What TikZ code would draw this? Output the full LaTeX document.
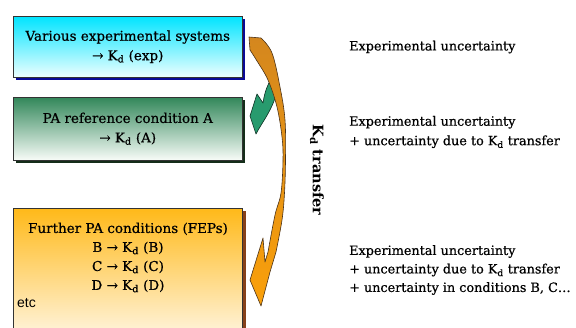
\documentclass[tikz,border=0pt]{standalone}
\usepackage{fontspec}
\setmainfont{DejaVu Serif}[UprightFeatures={FakeBold=0.6}]
\setsansfont{Liberation Sans}
\usetikzlibrary{positioning, shadows}

\definecolor{sysTop}{RGB}{0,228,255}
\definecolor{sysBot}{RGB}{238,255,255}
\definecolor{sysShadow}{RGB}{10,10,150}
\definecolor{refTop}{RGB}{50,135,90}
\definecolor{refBot}{RGB}{248,252,248}
\definecolor{refShadow}{RGB}{20,45,25}
\definecolor{fepTop}{RGB}{255,185,25}
\definecolor{fepBot}{RGB}{255,250,240}
\definecolor{fepShadow}{RGB}{135,65,25}
\definecolor{orangeDark}{RGB}{212,135,30}
\definecolor{orangeArrow}{RGB}{250,160,10}
\definecolor{greenArrow}{RGB}{40,155,110}

\begin{document}
\begin{tikzpicture}[x=1pt, y=-1pt,
    box/.style={draw=black!80, line width=0.5pt, anchor=north west, minimum width=229pt,
        align=center, font=\fontsize{13.5}{19.5}\selectfont},
    note/.style={anchor=west, align=left, inner sep=0pt, font=\fontsize{12.8}{19.5}\selectfont},
    bigarrow/.style={line width=0.6pt, line join=round}]
    \useasboundingbox (0,0) rectangle (576,328);
    \clip (0,0) rectangle (576,328);

    % boxes on the left
    \node[box, minimum height=61pt, top color=sysTop, bottom color=sysBot,
        drop shadow={shadow xshift=3pt, shadow yshift=-3pt, fill=sysShadow, opacity=1}]
        (sys) at (13,16) {Various experimental systems\\ → K\textsubscript{d} (exp)};
    \node[box, minimum height=63pt, top color=refTop, bottom color=refBot,
        drop shadow={shadow xshift=3pt, shadow yshift=-3pt, fill=refShadow, opacity=1}]
        (ref) at (13,97) {PA reference condition A\\ → K\textsubscript{d} (A)};
    \node[box, minimum height=140pt, top color=fepTop, bottom color=fepBot,
        drop shadow={shadow xshift=4pt, shadow yshift=-3pt, fill=fepShadow, opacity=1}]
        (fep) at (13,208) {};
    \node[align=center, font=\fontsize{13.5}{19}\selectfont] (fepText) at (128,257.5)
        {Further PA conditions (FEPs)\\ B → K\textsubscript{d} (B)\\ C → K\textsubscript{d} (C)\\ D → K\textsubscript{d} (D)};
    \node[anchor=west, inner sep=0pt, font=\sffamily\fontsize{14}{16}\selectfont] (etc) at (17,303) {etc};

    % curved arrows
    \filldraw[bigarrow, fill=greenArrow, draw=black!70!greenArrow]
        (270,81) .. controls (266,88) and (264,96) .. (263,103)
        -- (257,94) -- (250,116) -- (256,134)
        .. controls (262,122) and (273,110) .. (278,88) -- cycle;
    \shadedraw[bigarrow, top color=orangeDark, bottom color=orangeArrow, draw=black!60!brown]
        plot[smooth, tension=0.6] coordinates {(261,38) (272,53) (280,87) (285,120)
            (285.5,160) (284.5,193) (282,220) (276,252)}
        -- (270,272) -- (261,306) -- (250,280) -- (263,238) -- (265,262)
        -- plot[smooth, tension=0.6] coordinates {(268,252) (275,215) (281,193)
            (283,160) (282,137) (277,107) (268,80) (257,61) (250,50)}
        -- (249,37) -- cycle;
    \node[rotate=-90, inner sep=0pt, font=\bfseries\fontsize{14.5}{16}\selectfont]
        (transfer) at (317,170) {K\textsubscript{d} transfer};

    % uncertainty notes
    \node[note] (unc1) at (349,47) {Experimental uncertainty};
    \node[note] (unc2) at (349,132) {Experimental uncertainty\\ + uncertainty due to K\textsubscript{d} transfer};
    \node[note, font=\fontsize{12.8}{18.5}\selectfont] (unc3) at (349,270)
        {Experimental uncertainty\\ + uncertainty due to K\textsubscript{d} transfer\\ + uncertainty in conditions B, C\ldots};
\end{tikzpicture}
\end{document}
